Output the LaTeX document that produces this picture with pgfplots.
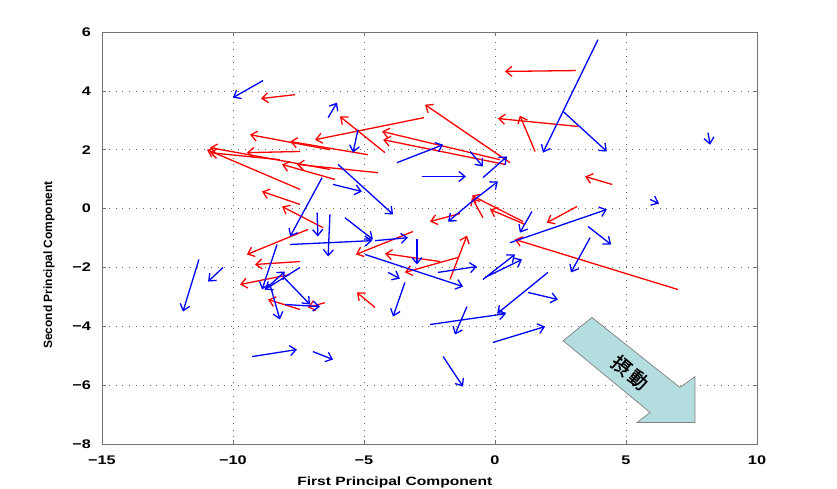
\documentclass[border=0pt]{standalone}
\usepackage{fontspec}
\setmainfont{Liberation Sans}
\newfontfamily\stretchfont{Liberation Sans}[FakeStretch=1.3]
\newfontfamily\cjk{Noto Sans CJK JP}[FakeBold=1.2]
\usepackage{pgfplots}
\pgfplotsset{compat=1.18}
\usepackage{pgfplotstable}
\usetikzlibrary{arrows.meta}
\definecolor{pertfill}{RGB}{180,221,224}

\pgfplotstableread{
x1 y1 x2 y2
3.09 4.69 0.38 4.66
-7.63 3.87 -8.93 3.74
3.17 2.79 0.11 3.06
1.53 1.94 0.95 3.16
0.57 1.56 -2.67 3.53
-2.71 3.09 -6.87 2.34
-4.20 1.90 -5.92 3.13
-4.85 1.83 -7.82 2.28
0.19 1.66 -4.31 2.62
0.38 1.50 -4.27 2.34
-7.44 0.65 -10.99 2.00
-6.30 1.33 -10.88 2.07
-8.21 1.66 -10.88 1.90
-6.30 2.00 -9.35 2.51
-7.44 1.94 -9.47 1.90
-7.44 0.14 -8.89 0.58
1.07 -0.44 -0.88 0.44
-0.46 -0.31 -0.88 0.37
1.15 -0.54 -0.19 -0.03
3.13 0.07 1.98 -0.48
4.47 0.82 3.44 1.09
-1.72 -2.41 -1.07 -0.92
6.98 -2.75 0.76 -1.05
-7.14 -0.71 -9.47 -1.56
-7.44 -1.80 -9.16 -1.90
-7.82 -2.24 -9.73 -2.58
-3.13 -0.78 -5.31 -1.56
-2.10 -1.80 -4.20 -1.53
-1.41 -1.66 -3.44 -2.17
-4.58 -3.36 -5.27 -2.85
-6.50 -3.20 -7.14 -3.36
-7.44 -3.43 -8.66 -3.09
-6.56 -0.65 -8.13 0.07
-1.34 -0.17 -2.48 -0.44
-6.11 0.99 -8.13 1.50
-4.47 1.22 -7.56 1.50
}\redarrows

\pgfplotstableread{
x1 y1 x2 y2
-8.85 4.35 -10.00 3.77
3.93 5.74 1.83 1.90
2.60 3.30 4.27 1.94
-5.23 2.68 -5.42 1.90
-6.37 3.09 -6.03 3.60
-3.74 1.56 -1.98 2.17
-2.79 1.09 -1.11 1.09
-0.95 1.94 -0.46 1.43
-0.46 1.05 0.46 1.77
-0.88 0.24 0.11 0.92
-0.88 0.24 -1.79 -0.44
1.41 -0.10 0.95 -0.82
0.57 -1.16 4.27 -0.03
3.55 -0.61 4.43 -1.22
8.13 2.58 8.21 2.17
5.92 0.31 6.26 0.17
-2.18 -2.17 -0.69 -1.97
-4.96 -1.56 -1.22 -2.65
-0.38 -2.34 1.03 -1.73
-0.46 -2.41 0.76 -1.56
3.63 -0.99 2.90 -2.17
2.02 -2.17 0.08 -3.57
1.26 -2.85 2.40 -3.09
-2.48 -3.94 0.42 -3.57
-1.07 -3.33 -1.53 -4.28
-0.08 -4.55 1.91 -4.01
-1.98 -5.03 -1.22 -6.05
-7.82 -1.22 -4.69 -1.09
-4.58 -1.09 -3.32 -0.99
-6.30 -0.20 -6.37 -1.63
-5.73 -0.31 -4.66 -1.05
-2.98 -1.05 -2.98 -1.90
-4.08 -2.17 -3.63 -2.38
-3.44 -2.51 -3.89 -3.67
-8.09 -2.31 -7.06 -3.26
-8.78 -2.75 -8.02 -2.14
-8.02 -3.26 -6.68 -3.33
-8.59 -2.58 -8.21 -3.77
-9.27 -5.03 -7.56 -4.79
-6.95 -4.86 -6.18 -5.13
-8.32 -1.22 -8.89 -2.75
-7.44 -2.00 -8.78 -2.75
-11.30 -1.73 -11.91 -3.50
-10.38 -2.00 -10.95 -2.48
-6.18 0.82 -5.08 0.58
-5.99 1.50 -3.89 -0.20
-6.60 1.05 -7.82 -0.95
-6.79 -0.14 -6.76 -0.95
}\bluearrows

\begin{document}
\begin{tikzpicture}
\begin{axis}[
  width=655pt, height=412pt, scale only axis,
  xmin=-15, xmax=10, ymin=-8, ymax=6,
  xtick={-15,-10,-5,0,5,10},
  ytick={-8,-6,-4,-2,0,2,4,6},
  xticklabels={−15,−10,−5,0,5,10},
  yticklabels={−8,−6,−4,−2,0,2,4,6},
  tick align=inside,
  major tick length=4pt,
  axis line style={black!55},
  tick style={black!55, line width=0.6pt},
  grid=major,
  major grid style={black!60, line width=0.7pt, dash pattern=on 0.8pt off 6pt},
  ticklabel style={font=\stretchfont\bfseries\fontsize{12.5}{14}\selectfont},
  xticklabel style={inner sep=0pt, yshift=-12pt},
  yticklabel style={inner sep=0pt, xshift=-11pt},
  xlabel={First Principal Component},
  xlabel style={font=\stretchfont\bfseries\fontsize{12}{14}\selectfont, at={(axis description cs:0.447,-0.080)}, anchor=north, inner sep=0pt},
  ylabel={Second Principal Component},
  ylabel style={font=\bfseries\fontsize{12}{14}\selectfont, at={(axis description cs:-0.081,0.434)}, anchor=center, rotate=0, inner sep=0pt},
  clip=true,
]
\addplot[red, line width=1.3pt, -{Straight Barb[length=6pt,width=10pt]},
  quiver={u=\thisrow{x2}-\thisrow{x1}, v=\thisrow{y2}-\thisrow{y1}}]
  table[x=x1, y=y1] {\redarrows};
\addplot[blue, line width=1.3pt, -{Straight Barb[length=6pt,width=10pt]},
  quiver={u=\thisrow{x2}-\thisrow{x1}, v=\thisrow{y2}-\thisrow{y1}}]
  table[x=x1, y=y1] {\bluearrows};
\addplot[fill=pertfill, draw=black!50, line width=0.7pt] coordinates {
  (3.70,-3.70) (7.06,-6.08) (7.63,-5.71) (7.63,-7.27) (5.42,-7.27) (5.92,-6.93) (2.60,-4.49)
} -- cycle;
\node[rotate=-40, font=\cjk\fontsize{19}{21}\selectfont, text=black] at (axis cs:5.15,-5.57) {摂\hspace{3pt}動};
\end{axis}
\pgfresetboundingbox
\path[use as bounding box] ([xshift=-102pt,yshift=-45pt]current axis.south west) rectangle ([xshift=80pt,yshift=32pt]current axis.north east);
\end{tikzpicture}
\end{document}
